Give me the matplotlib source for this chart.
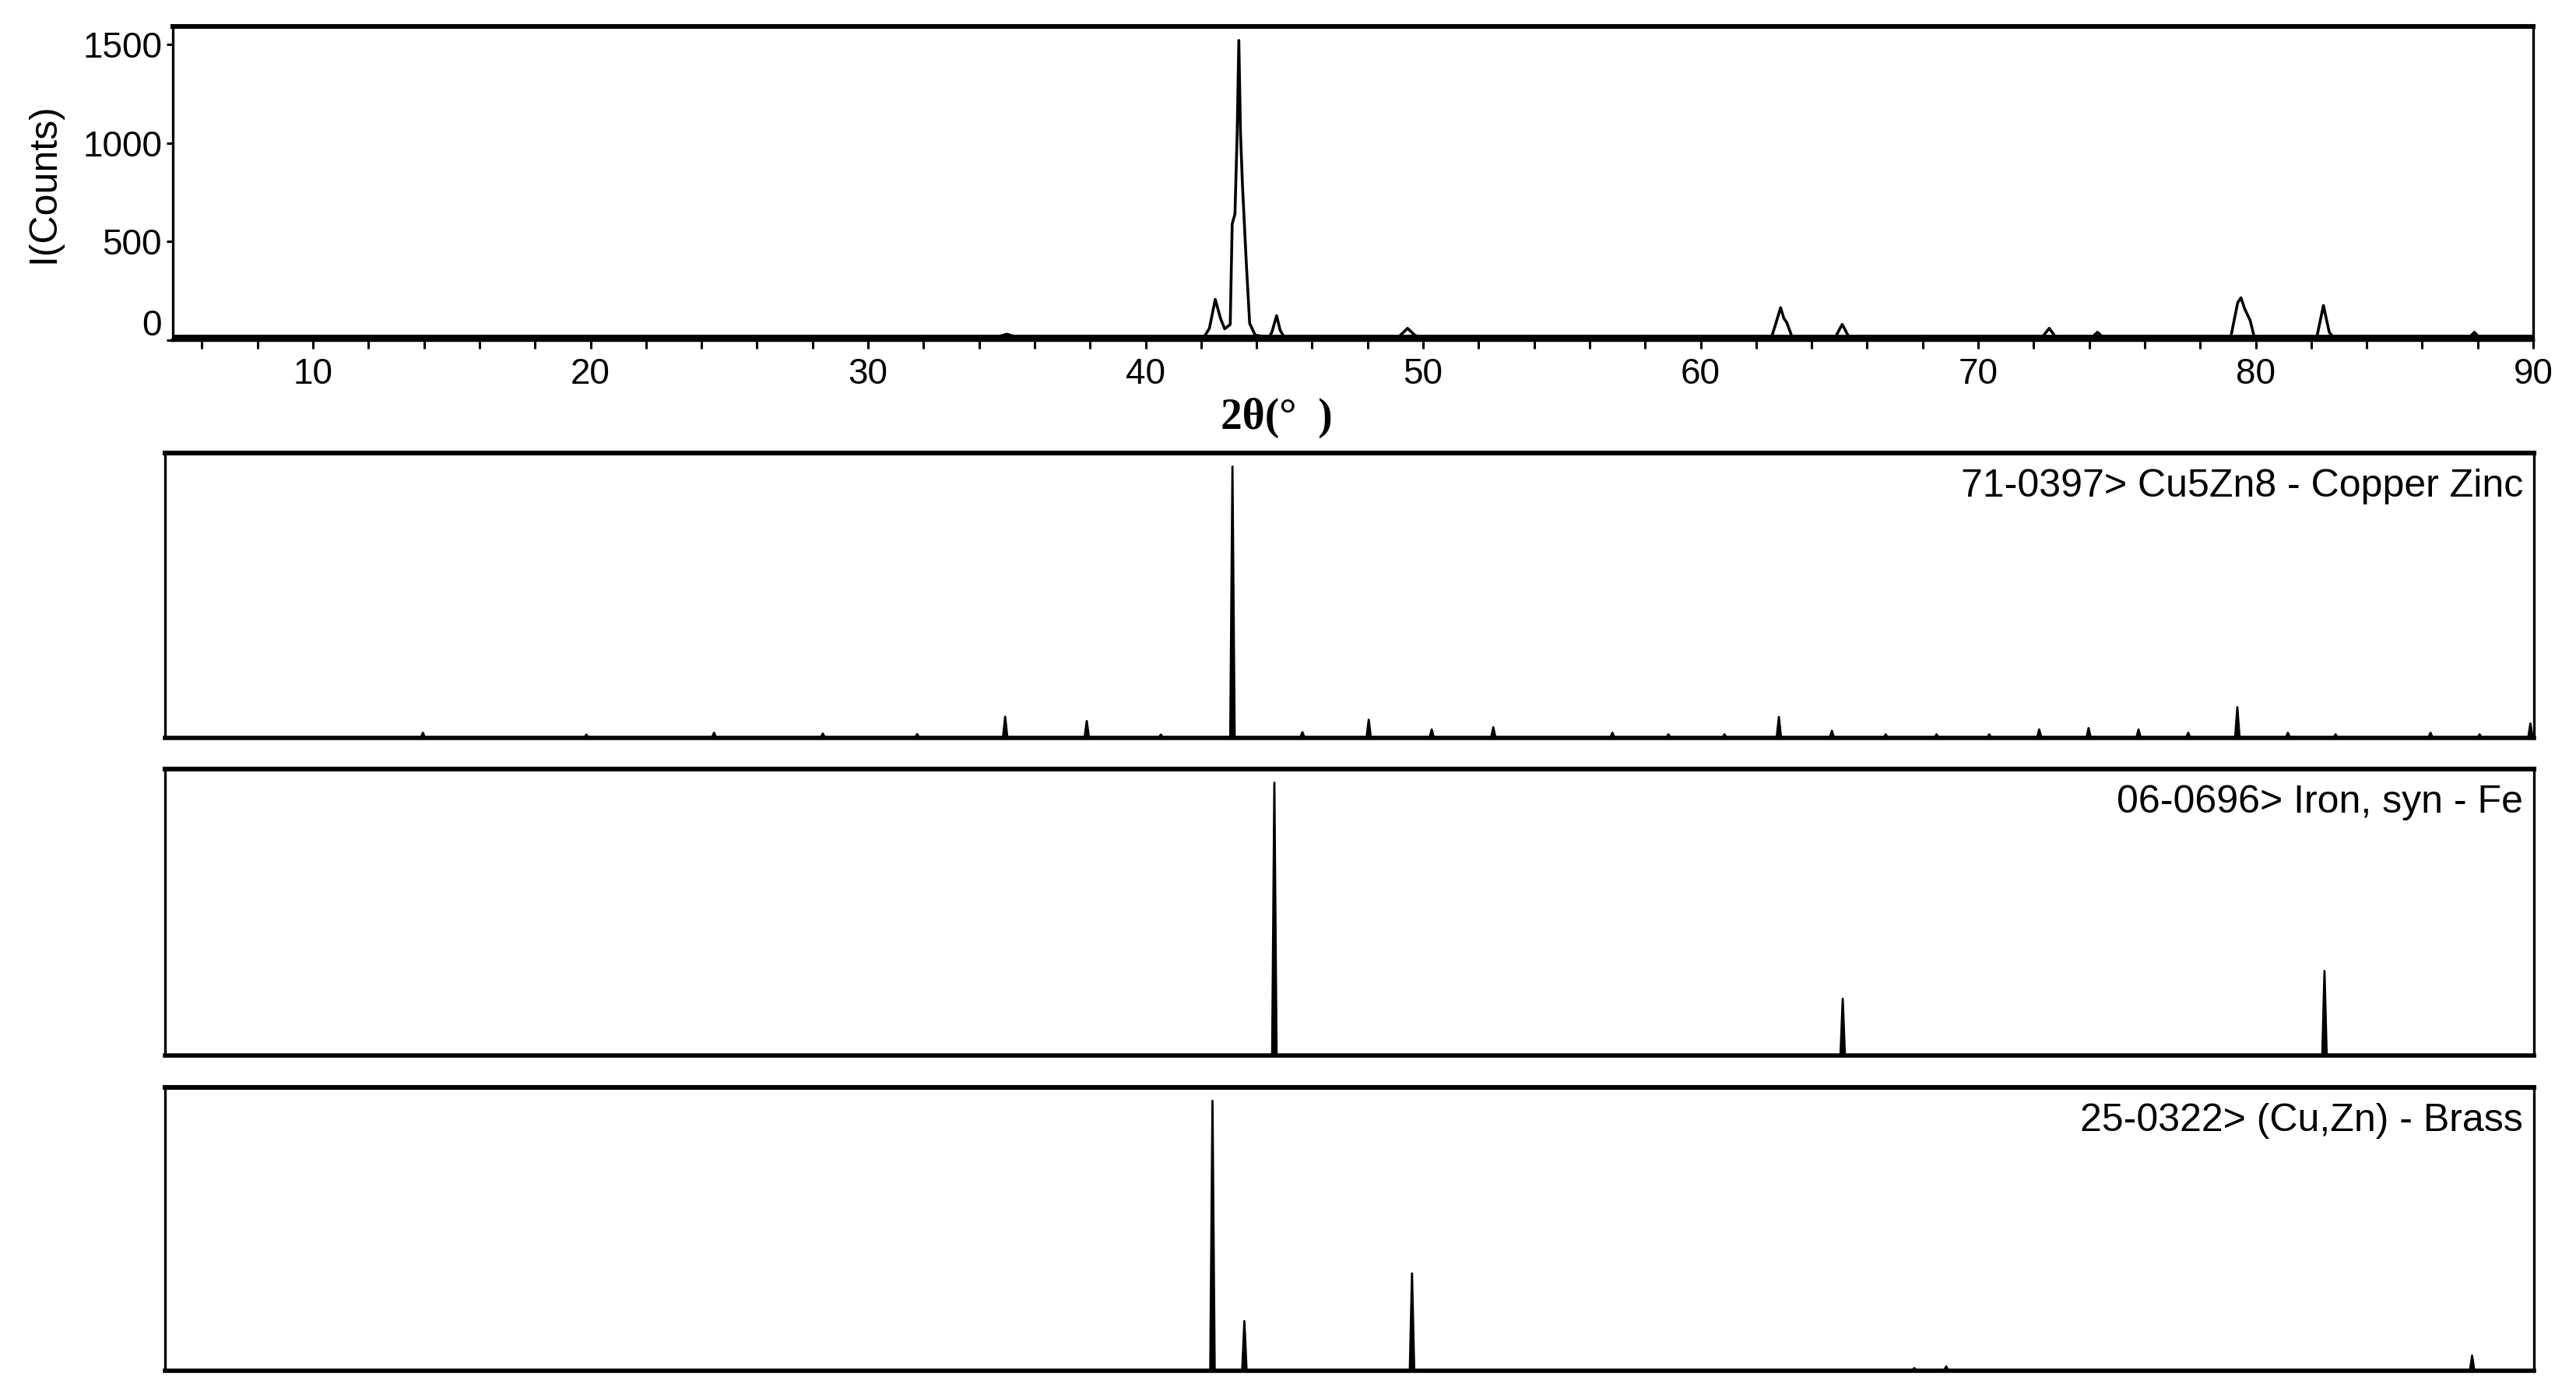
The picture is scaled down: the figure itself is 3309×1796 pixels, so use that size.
import matplotlib
matplotlib.use('Agg')
import matplotlib.pyplot as plt
from matplotlib.ticker import MultipleLocator, FixedLocator, NullLocator
from matplotlib.transforms import ScaledTranslation

plt.rcParams['font.family'] = ['Liberation Sans', 'DejaVu Sans']

meas_2theta = [5.0, 34.6, 35.0, 35.4, 42.1, 42.3, 42.51, 42.7, 42.85, 43.05, 43.12,
               43.22, 43.3, 43.36, 43.42, 43.49, 43.63, 43.75, 43.95, 44.45, 44.55,
               44.72, 44.85, 45.0, 49.1, 49.44, 49.7, 49.9, 62.55, 62.7, 62.88,
               63.0, 63.1, 63.3, 64.85, 65.1, 65.35, 72.3, 72.56, 72.8, 74.1, 74.3,
               74.5, 79.1, 79.35, 79.47, 79.6, 79.8, 79.95, 82.2, 82.44, 82.65,
               82.8, 87.7, 87.88, 88.05, 90.0]
meas_counts = [14, 14, 30, 14, 14, 60, 207, 110, 57, 80, 590,
               640, 1050, 1521, 1050, 789, 388, 85, 25, 15, 40,
               124, 50, 14, 14, 60, 25, 14, 14, 80, 165,
               110, 90, 14, 14, 80, 14, 14, 60, 14, 14, 40,
               14, 14, 190, 215, 160, 100, 14, 14, 176, 40,
               14, 14, 40, 14, 14]
noise_band = (3, 28)

# reference patterns (2theta, relative intensity)
cu5zn8_pos = [13.96, 19.85, 24.45, 28.37, 31.77, 34.94, 37.88, 40.55, 43.13, 45.65,
              48.04, 50.31, 52.53, 56.82, 58.84, 60.86, 62.82, 64.73, 66.67, 68.5,
              70.4, 72.2, 73.98, 75.78, 77.57, 79.34, 81.16, 82.88, 86.3, 88.07, 89.9]
cu5zn8_int = [1.9, 1.2, 1.9, 1.6, 1.4, 7.8, 6.2, 1.2, 100, 2.1,
              6.7, 3.1, 3.9, 1.9, 1.3, 1.3, 7.7, 2.6, 1.3, 1.3,
              1.3, 3.1, 3.6, 3.1, 1.9, 11.3, 1.9, 1.3, 1.9, 1.3, 5.3]
fe_pos = [44.64, 65.12, 82.48]
fe_int = [100, 20.8, 31.0]
brass_pos = [42.41, 43.56, 49.6, 67.7, 68.85, 87.8]
brass_int = [100, 18.4, 36.1, 1.0, 1.6, 5.6]

ref_labels = ['71-0397> Cu5Zn8 - Copper Zinc', '06-0696> Iron, syn - Fe',
              '25-0322> (Cu,Zn) - Brass']
x_ticks = [10, 20, 30, 40, 50, 60, 70, 80, 90]
y_ticks = [0, 500, 1000, 1500]

fig = plt.figure(figsize=(3309 / 200, 1796 / 200), dpi=200)

# top panel: measured pattern
ax = fig.add_axes([0.0671, 0.7567, 0.9163, 0.2244])
ax.fill_between([meas_2theta[0], meas_2theta[-1]], noise_band[0], noise_band[1],
                color='k', lw=0)
ax.plot(meas_2theta, meas_counts, color='k', lw=1.3)
ax.set_xlim(4.95, 90)
ax.set_ylim(0, 1592)
ax.xaxis.set_major_locator(FixedLocator(x_ticks))
ax.xaxis.set_minor_locator(MultipleLocator(2))
ax.yaxis.set_major_locator(FixedLocator(y_ticks))
ax.tick_params(axis='x', which='both', direction='out', length=4, width=1.1,
               labelsize=16.5, pad=4)
ax.tick_params(axis='y', direction='out', length=3, width=1.1, labelsize=16.5, pad=2)
for s in ax.spines.values():
    s.set_linewidth(1.2)
ax.spines['top'].set_linewidth(2.2)
ax.spines['bottom'].set_linewidth(1.6)
fig.canvas.draw()
# the "0" label sits above its tick, clear of the x axis
lbl0 = ax.get_yticklabels()[0]
lbl0.set_transform(lbl0.get_transform() + ScaledTranslation(0, 0.115, fig.dpi_scale_trans))
ax.set_ylabel('I(Counts)', fontsize=18)
ax.yaxis.set_label_coords(-0.047, 0.5)
fig.text(0.4957, 0.701, '2θ(°  )', ha='center', va='center', fontsize=20,
         fontweight='bold', family=['Liberation Serif', 'DejaVu Serif'])

# reference stick patterns
ref_sets = [(cu5zn8_pos, cu5zn8_int), (fe_pos, fe_int), (brass_pos, brass_int)]
ref_boxes = [[0.0641, 0.4722, 0.9196, 0.2038],
             [0.0641, 0.2450, 0.9196, 0.2049],
             [0.0641, 0.0195, 0.9196, 0.2027]]
w = 0.08
for (pos, inten), box, label in zip(ref_sets, ref_boxes, ref_labels):
    rax = fig.add_axes(box)
    xs, ys = [4.67], [0]
    for p, h in sorted(zip(pos, inten)):
        xs += [p - w, p, p + w]
        ys += [0, h, 0]
    xs.append(90.03)
    ys.append(0)
    rax.fill(xs, ys, color='k', lw=0)
    rax.plot(xs, ys, color='k', lw=1.0)
    rax.set_xlim(4.67, 90.03)
    rax.set_ylim(0, 105)
    rax.xaxis.set_major_locator(NullLocator())
    rax.yaxis.set_major_locator(NullLocator())
    for s in rax.spines.values():
        s.set_linewidth(1.2)
    rax.spines['top'].set_linewidth(2.2)
    rax.spines['bottom'].set_linewidth(2.0)
    rax.text(0.9954, 0.945, label, transform=rax.transAxes, ha='right', va='top',
             fontsize=18)

fig.savefig('out.png', dpi=200)
